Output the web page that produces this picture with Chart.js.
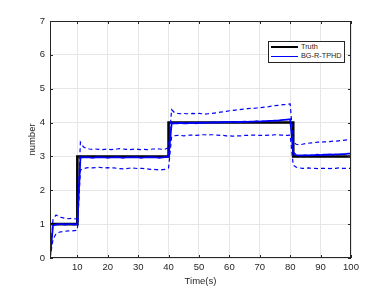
<!DOCTYPE html>
<html>
<head>
<meta charset="utf-8">
<script src="https://cdn.jsdelivr.net/npm/chart.js@4.4.1/dist/chart.umd.min.js"></script>
<style>
  body { margin: 0; background: #fff; }
  #wrap { position: relative; width: 388px; height: 291px; }
  #legend {
    position: absolute; left: 268px; top: 41px; width: 75px; height: 20px;
    border: 1px solid #262626; background: #fff;
    font: 7.3px "Liberation Sans", Arial, sans-serif; color: #262626;
  }
  .item { position: absolute; left: 2px; height: 9px; line-height: 9px; white-space: nowrap; }
  .item span.ln { display: inline-block; width: 27px; vertical-align: middle; margin-right: 3px; }
</style>
</head>
<body>
<div id="wrap">
  <canvas id="my-chart" width="388" height="291"></canvas>
  <div id="legend">
    <div class="item" style="top:0px"><span class="ln" style="border-top:2px solid #000"></span>Truth</div>
    <div class="item" style="top:9px"><span class="ln" style="border-top:1.5px solid #0000ff"></span>BG-R-TPHD</div>
  </div>
</div>
<script>
const times = [
  1, 2, 3, 4, 5, 6, 7, 8, 9, 10, 11, 12, 13, 14, 15, 16, 17, 18, 19, 20,
  21, 22, 23, 24, 25, 26, 27, 28, 29, 30, 31, 32, 33, 34, 35, 36, 37, 38, 39, 40,
  41, 42, 43, 44, 45, 46, 47, 48, 49, 50, 51, 52, 53, 54, 55, 56, 57, 58, 59, 60,
  61, 62, 63, 64, 65, 66, 67, 68, 69, 70, 71, 72, 73, 74, 75, 76, 77, 78, 79, 80,
  81, 82, 83, 84, 85, 86, 87, 88, 89, 90, 91, 92, 93, 94, 95, 96, 97, 98, 99, 100
];

// truth: value held from each time until the next one
const truthTimes = [1, 10, 40, 81, 100];
const truthValues = [1, 3, 4, 3, 3];

const estimate = [
  0, 0.96, 0.99, 1.00, 1.00, 0.99, 1.00, 1.00, 0.99, 1.00,
  2.96, 2.98, 2.97, 2.97, 2.96, 2.97, 2.98, 2.97, 2.97, 2.96,
  2.97, 2.97, 2.98, 2.97, 2.96, 2.97, 2.97, 2.97, 2.98, 2.97,
  2.96, 2.97, 2.97, 2.98, 2.97, 2.97, 2.96, 2.97, 2.98, 2.99,
  3.97, 3.98, 3.98, 3.99, 3.98, 3.98, 3.99, 3.99, 3.98, 3.99,
  4.00, 3.99, 4.00, 4.00, 4.01, 4.00, 4.01, 4.01, 4.02, 4.01,
  4.02, 4.02, 4.01, 4.02, 4.03, 4.02, 4.03, 4.03, 4.04, 4.03,
  4.04, 4.04, 4.05, 4.05, 4.06, 4.06, 4.07, 4.08, 4.09, 4.10,
  3.12, 3.04, 3.03, 3.03, 3.04, 3.03, 3.04, 3.04, 3.05, 3.04,
  3.05, 3.05, 3.06, 3.05, 3.06, 3.06, 3.07, 3.07, 3.08, 3.08
];

const upperBound = [
  0, 1.15, 1.27, 1.22, 1.19, 1.17, 1.16, 1.17, 1.16, 1.15,
  3.42, 3.28, 3.24, 3.22, 3.21, 3.22, 3.21, 3.20, 3.21, 3.22,
  3.20, 3.21, 3.22, 3.23, 3.22, 3.21, 3.20, 3.21, 3.22, 3.21,
  3.20, 3.21, 3.20, 3.21, 3.22, 3.23, 3.22, 3.21, 3.22, 3.26,
  4.38, 4.29, 4.27, 4.26, 4.27, 4.26, 4.26, 4.27, 4.26, 4.27,
  4.26, 4.25, 4.26, 4.27, 4.28, 4.29, 4.31, 4.32, 4.33, 4.35,
  4.36, 4.37, 4.38, 4.39, 4.40, 4.41, 4.42, 4.42, 4.43, 4.44,
  4.45, 4.46, 4.47, 4.49, 4.50, 4.51, 4.52, 4.53, 4.54, 4.55,
  3.42, 3.36, 3.34, 3.36, 3.38, 3.39, 3.40, 3.41, 3.42, 3.42,
  3.43, 3.43, 3.44, 3.45, 3.45, 3.46, 3.47, 3.48, 3.49, 3.50
];

const lowerBound = [
  0, 0.55, 0.72, 0.76, 0.78, 0.79, 0.80, 0.80, 0.81, 0.82,
  2.60, 2.64, 2.66, 2.67, 2.66, 2.67, 2.68, 2.67, 2.66, 2.67,
  2.66, 2.66, 2.65, 2.64, 2.63, 2.64, 2.65, 2.66, 2.65, 2.64,
  2.65, 2.64, 2.63, 2.62, 2.62, 2.61, 2.60, 2.61, 2.62, 2.66,
  3.58, 3.61, 3.62, 3.62, 3.61, 3.62, 3.63, 3.63, 3.62, 3.63,
  3.64, 3.64, 3.63, 3.64, 3.64, 3.63, 3.62, 3.62, 3.61, 3.61,
  3.60, 3.60, 3.61, 3.61, 3.62, 3.62, 3.63, 3.63, 3.63, 3.62,
  3.62, 3.62, 3.63, 3.63, 3.64, 3.64, 3.63, 3.63, 3.62, 3.63,
  2.74, 2.68, 2.66, 2.65, 2.65, 2.66, 2.65, 2.65, 2.64, 2.65,
  2.65, 2.65, 2.64, 2.65, 2.65, 2.66, 2.65, 2.65, 2.65, 2.65
];

const xTicks = [10, 20, 30, 40, 50, 60, 70, 80, 90, 100];
const yTicks = [0, 1, 2, 3, 4, 5, 6, 7];

const axisColor = '#262626';
const gridColor = '#e6e6e6';
const fontFamily = '"Liberation Sans", Arial, sans-serif';

function toPoints(xs, ys) {
  return xs.map((x, i) => ({ x: x, y: ys[i] }));
}

// matlab style box with inward ticks
const boxPlugin = {
  id: 'box',
  afterDraw(chart) {
    const { ctx, chartArea: a, scales } = chart;
    ctx.save();
    ctx.strokeStyle = axisColor;
    ctx.lineWidth = 1;
    ctx.strokeRect(a.left + 0.5, a.top + 0.5, a.right - a.left - 1, a.bottom - a.top - 1);
    ctx.beginPath();
    xTicks.forEach(v => {
      const px = Math.round(scales.x.getPixelForValue(v)) + 0.5;
      ctx.moveTo(px, a.bottom); ctx.lineTo(px, a.bottom - 3);
      ctx.moveTo(px, a.top); ctx.lineTo(px, a.top + 3);
    });
    yTicks.forEach(v => {
      const py = Math.round(scales.y.getPixelForValue(v)) + 0.5;
      ctx.moveTo(a.left, py); ctx.lineTo(a.left + 3, py);
      ctx.moveTo(a.right, py); ctx.lineTo(a.right - 3, py);
    });
    ctx.stroke();
    ctx.restore();
  }
};

const ctx = document.getElementById('my-chart').getContext('2d');
const chart = new Chart(ctx, {
  type: 'line',
  data: {
    datasets: [
      {
        label: 'BG-R-TPHD',
        data: toPoints(times, estimate),
        borderColor: '#0000ff',
        borderWidth: 1.8,
        pointRadius: 0
      },
      {
        label: 'upper',
        data: toPoints(times, upperBound),
        borderColor: '#0000ff',
        borderWidth: 1.2,
        borderDash: [4, 3],
        pointRadius: 0
      },
      {
        label: 'lower',
        data: toPoints(times, lowerBound),
        borderColor: '#0000ff',
        borderWidth: 1.2,
        borderDash: [4, 3],
        pointRadius: 0
      },
      {
        label: 'Truth',
        data: toPoints(truthTimes, truthValues),
        borderColor: '#000000',
        borderWidth: 2.6,
        stepped: 'before',
        pointRadius: 0
      }
    ]
  },
  options: {
    responsive: false,
    animation: false,
    devicePixelRatio: 1,
    layout: { padding: { left: 0, top: 21, right: 37, bottom: 0 } },
    plugins: { legend: { display: false }, tooltip: { enabled: false } },
    scales: {
      x: {
        type: 'linear',
        min: 1,
        max: 100,
        afterBuildTicks: scale => { scale.ticks = xTicks.map(v => ({ value: v })); },
        afterFit: scale => { scale.height = 33; },
        grid: { color: gridColor, drawTicks: false },
        border: { display: false },
        ticks: { color: axisColor, padding: 4, maxRotation: 0, font: { family: fontFamily, size: 9.5 } },
        title: { display: true, text: 'Time(s)', color: axisColor, padding: { top: 0, bottom: 4 }, font: { family: fontFamily, size: 9.5 } }
      },
      y: {
        min: 0,
        max: 7,
        afterBuildTicks: scale => { scale.ticks = yTicks.map(v => ({ value: v })); },
        afterFit: scale => { scale.width = 50; },
        grid: { color: gridColor, drawTicks: false },
        border: { display: false },
        ticks: { color: axisColor, padding: 5, font: { family: fontFamily, size: 9.5 } },
        title: { display: true, text: 'number', color: axisColor, padding: { top: 27, bottom: 0 }, font: { family: fontFamily, size: 9.5 } }
      }
    }
  },
  plugins: [boxPlugin]
});
</script>
</body>
</html>
